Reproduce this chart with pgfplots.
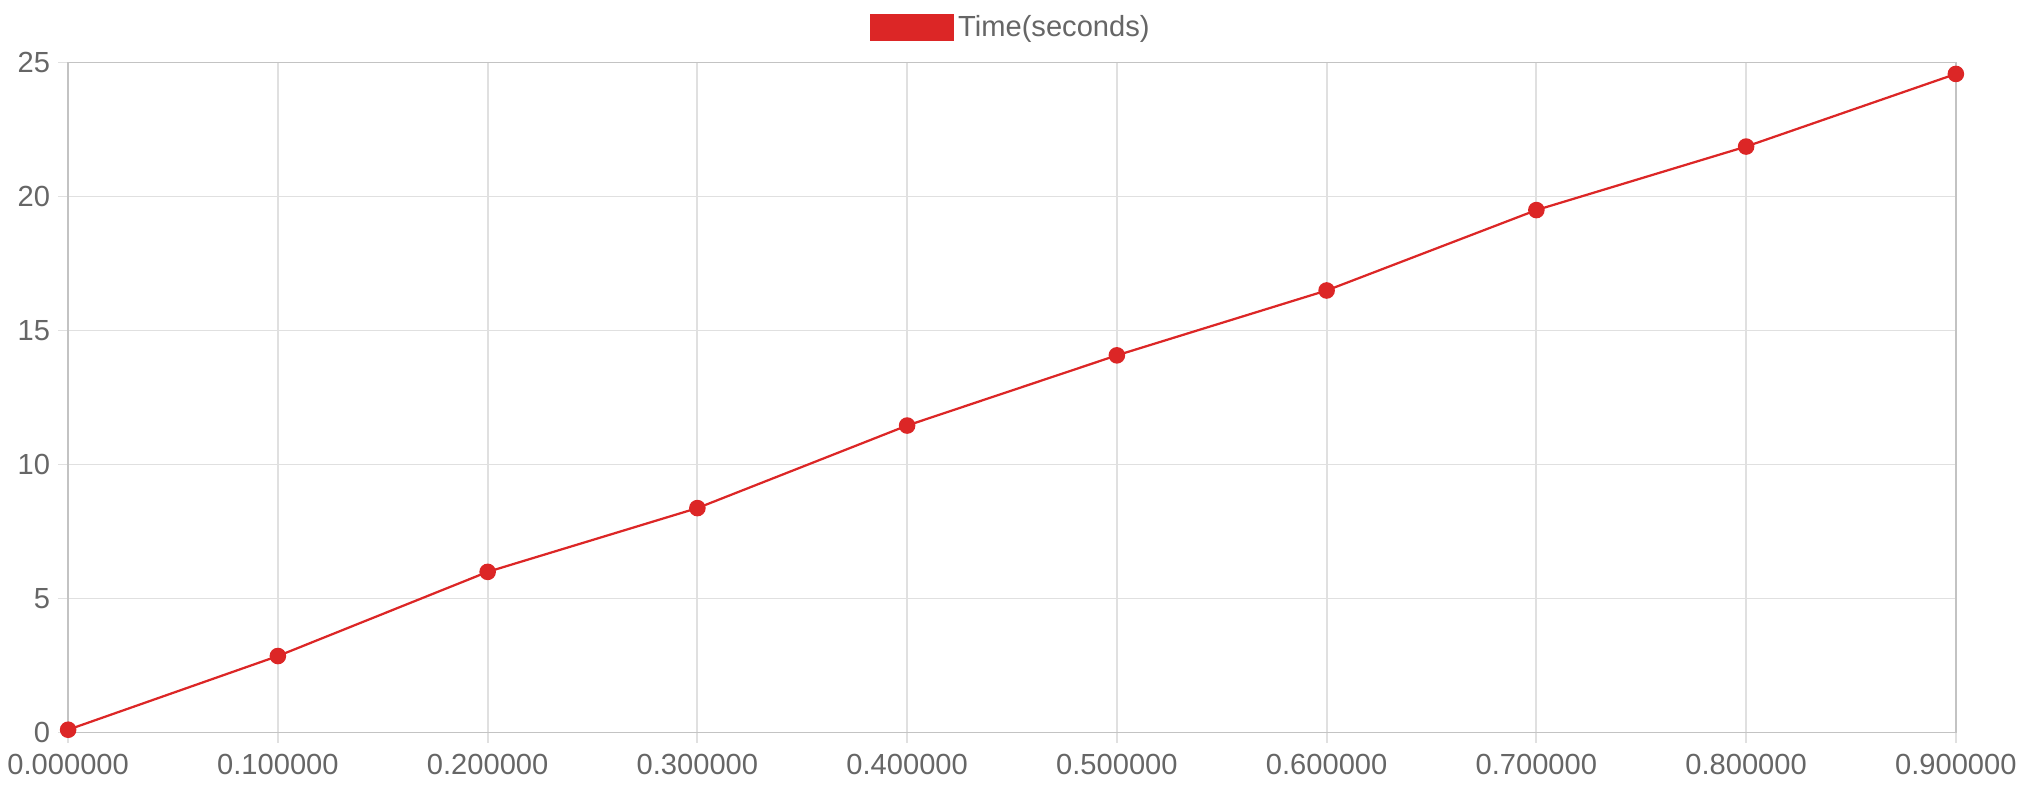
\documentclass[border=0pt]{standalone}
\usepackage{pgfplots}
\pgfplotsset{compat=1.18}
\usepackage{fontspec}
\setmainfont{Liberation Sans}
\definecolor{ln}{HTML}{DC2626}
\definecolor{gr}{HTML}{E0E0E0}
\definecolor{tx}{HTML}{666666}
\begin{document}
\begin{tikzpicture}
\path (-0.86cm,-1.0cm) rectangle (30.5cm,11.5cm);
\begin{axis}[
  scale only axis, width=29.64cm, height=10.52cm,
  xmin=0, xmax=0.9, ymin=0, ymax=25,
  xtick={0,0.1,...,0.9}, ytick={0,5,...,25},
  xtick pos=bottom, ytick pos=left,
  xticklabel={\pgfmathprintnumber[fixed,fixed zerofill,precision=6]{\tick}},
  /pgf/number format/assume math mode=true,
  grid=major, grid style={gr, line width=0.8pt},
  axis line style={gr!70!gray, line width=0.8pt},
  tick style={gr, line width=0.8pt},
  major tick length=0.16cm, tick align=outside,
  ticklabel style={font=\fontsize{13}{15}\selectfont, text=tx},
  xticklabel style={yshift=-0.05cm},
  legend style={at={(0.5,1.02)}, anchor=south, draw=none, font=\fontsize{13}{15}\selectfont\color{tx}, legend cell align=left},
  legend image code/.code={\fill[ln] (-0.1cm,-0.2cm) rectangle (1.18cm,0.2cm);},
]
\addplot[ln, line width=1pt, mark=*, mark size=3.2pt, mark options={fill=ln}] coordinates {
(0,0.1) (0.1,2.85) (0.2,5.99) (0.3,8.37) (0.4,11.45) (0.5,14.07) (0.6,16.49) (0.7,19.49) (0.8,21.86) (0.9,24.57)};
\addlegendentry{Time(seconds)}
\end{axis}
\end{tikzpicture}
\end{document}
